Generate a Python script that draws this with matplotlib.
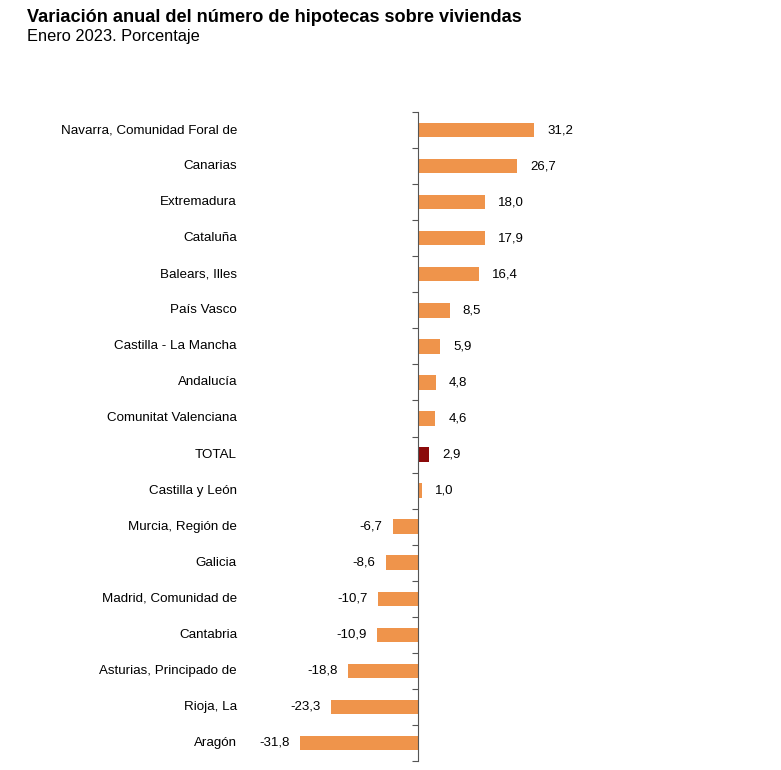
import numpy as np
import matplotlib; matplotlib.use("Agg"); import matplotlib.pyplot as plt
from matplotlib.transforms import blended_transform_factory

plt.rcParams.update({"font.family": ["Liberation Sans", "DejaVu Sans"], "font.size": 9})

regions = ["Navarra, Comunidad Foral de", "Canarias", "Extremadura", "Cataluña",
           "Balears, Illes", "País Vasco", "Castilla - La Mancha", "Andalucía",
           "Comunitat Valenciana", "TOTAL", "Castilla y León", "Murcia, Región de",
           "Galicia", "Madrid, Comunidad de", "Cantabria", "Asturias, Principado de",
           "Rioja, La", "Aragón"]
values = [31.2, 26.7, 18.0, 17.9, 16.4, 8.5, 5.9, 4.8, 4.6, 2.9, 1.0,
          -6.7, -8.6, -10.7, -10.9, -18.8, -23.3, -31.8]

W, H = 781, 770
fig = plt.figure(figsize=(W/100, H/100), dpi=100)
# axes in pixel terms: left 250, right 760, top 112, bottom 761
ax = fig.add_axes([250/W, (H-761)/H, 510/W, 649/H])
k = 3.72  # px per unit
ax.set_xlim(-(418-250)/k, (760-418)/k)
ax.set_ylim(len(regions)-0.5, -0.5)

y = np.arange(len(regions))
cols = ["#8B0A0A" if r == "TOTAL" else "#EF944B" for r in regions]
ax.barh(y, values, height=0.4, color=cols)

for yi, v in zip(y, values):
    lab = f"{v:.1f}".replace(".", ",")
    if v >= 0:
        ax.annotate(lab, (v, yi), xytext=(9.5, 0), textcoords="offset points",
                    ha="left", va="center", fontsize=9.5)
    else:
        ax.annotate(lab, (v, yi), xytext=(-7.5, 0), textcoords="offset points",
                    ha="right", va="center", fontsize=9.5)

tr = blended_transform_factory(fig.transFigure, ax.transData)
for yi, r in zip(y, regions):
    ax.text(237/W, yi, r, transform=tr, ha="right", va="center", fontsize=9.6)

for s in ["top", "right", "bottom"]:
    ax.spines[s].set_visible(False)
ax.spines["left"].set_position(("data", 0))
ax.spines["left"].set_color("#555555")
ax.set_xticks([])
ax.set_yticks(np.arange(-0.5, len(regions), 1))
ax.set_yticklabels([])
ax.tick_params(axis="y", direction="out", length=4, color="#555555")

fig.text(27/W, 1-17/H, "Variación anual del número de hipotecas sobre viviendas",
         fontsize=13.1, fontweight="bold", va="center", ha="left")
fig.text(27/W, 1-36/H, "Enero 2023. Porcentaje", fontsize=11.8, va="center", ha="left")

fig.savefig("out.png", dpi=100)
